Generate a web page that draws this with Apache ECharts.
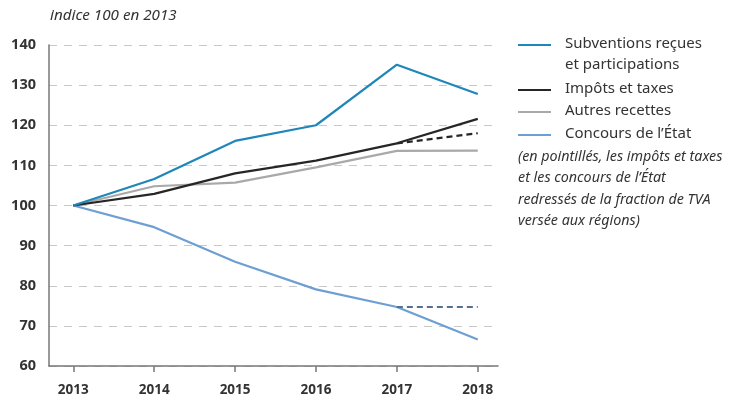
<!DOCTYPE html>
<html>
<head>
<meta charset="utf-8">
<script src="https://cdn.jsdelivr.net/npm/echarts@6/dist/echarts.min.js"></script>
<style>
  html, body { margin: 0; padding: 0; background: #fff; }
  #chart { width: 740px; height: 398px; }
</style>
</head>
<body>
<div id="chart"></div>
<script>
// Index of regional revenues, base 100 in 2013
const years = [2013, 2014, 2015, 2016, 2017, 2018];
const subventions = [100, 106.6, 116.1, 120.0, 135.1, 127.8];
const impots = [100, 102.9, 108.0, 111.2, 115.5, 121.6];
const autres = [100, 104.8, 105.7, 109.5, 113.6, 113.7];
const concours = [100, 94.6, 86.0, 79.1, 74.7, 66.6];
// Adjusted for the VAT fraction paid to regions (2017–2018 only)
const impotsAjustes = [null, null, null, null, 115.5, 118.0];
const concoursAjustes = [null, null, null, null, 74.7, 74.7];
const yTicks = [60, 70, 80, 90, 100, 110, 120, 130, 140];

const colors = {
  subventions: '#1f86b9',
  impots: '#262626',
  autres: '#a9a9a9',
  concours: '#6d9fd3',
  concoursDash: '#56708f'
};

const font = '"Noto Sans", "Open Sans", sans-serif';

function pairs(values) {
  return years.map((y, i) => [y, values[i]]);
}

function lineSeries(name, values, color, dashed) {
  return {
    name: name,
    type: 'line',
    data: pairs(values),
    symbol: 'none',
    connectNulls: false,
    lineStyle: { color: color, width: 2.2, type: dashed ? [6, 4] : 'solid' },
    z: dashed ? 3 : 2,
    silent: true
  };
}

const legendRows = [
  { color: colors.subventions, lineY: 45, lines: ['Subventions reçues', 'et participations'] },
  { color: colors.impots, lineY: 90, lines: ['Impôts et taxes'] },
  { color: colors.autres, lineY: 112, lines: ['Autres recettes'] },
  { color: colors.concours, lineY: 135, lines: ['Concours de l\u2019État'] }
];
const note = [
  '(en pointillés, les impôts et taxes',
  'et les concours de l\u2019État',
  'redressés de la fraction de TVA',
  'versée aux régions)'
];

const graphics = [];
legendRows.forEach(row => {
  graphics.push({
    type: 'line',
    shape: { x1: 518, y1: row.lineY, x2: 551, y2: row.lineY },
    style: { stroke: row.color, lineWidth: 2.2 }
  });
  row.lines.forEach((t, k) => {
    graphics.push({
      type: 'text',
      left: 565,
      top: row.lineY - 9 + k * 21.5,
      style: { text: t, font: '15px ' + font, fill: '#333' }
    });
  });
});
note.forEach((t, k) => {
  graphics.push({
    type: 'text',
    left: 518,
    top: 150 + k * 21.3,
    style: { text: t, font: 'italic 14.3px ' + font, fill: '#333' }
  });
});
graphics.push({
  type: 'text',
  left: 50,
  top: 8,
  style: { text: 'indice 100 en 2013', font: 'italic 15.2px ' + font, fill: '#333' }
});

const chart = echarts.init(document.getElementById('chart'), null, { renderer: 'canvas' });
chart.setOption({
  animation: false,
  backgroundColor: '#fff',
  grid: { left: 49, top: 45, right: 242, bottom: 32, containLabel: false },
  xAxis: {
    type: 'value',
    min: 2012.7,
    max: 2018.25,
    axisLine: { show: true, lineStyle: { color: '#777', width: 1.5 } },
    axisTick: { show: true, customValues: years, length: 6, lineStyle: { color: '#777', width: 1.5 } },
    axisLabel: {
      customValues: years,
      formatter: v => String(v),
      color: '#333',
      fontFamily: font,
      fontSize: 13.5,
      fontWeight: 'bold',
      margin: 17
    },
    splitLine: { show: false }
  },
  yAxis: {
    type: 'value',
    min: yTicks[0],
    max: yTicks[yTicks.length - 1],
    interval: 10,
    axisLine: { show: true, lineStyle: { color: '#777', width: 1.5 } },
    axisTick: { show: false },
    axisLabel: {
      color: '#333',
      fontFamily: font,
      fontSize: 14.5,
      fontWeight: 'bold',
      margin: 13,
      formatter: v => (yTicks.includes(v) ? String(v) : '')
    },
    splitLine: { show: true, lineStyle: { color: '#c8c8c8', width: 1.2, type: [8, 7] } }
  },
  graphic: graphics,
  series: [
    lineSeries('Autres recettes', autres, colors.autres, false),
    lineSeries('Concours de l\u2019État', concours, colors.concours, false),
    lineSeries('Impôts et taxes', impots, colors.impots, false),
    lineSeries('Subventions reçues et participations', subventions, colors.subventions, false),
    lineSeries('Impôts et taxes (redressés)', impotsAjustes, colors.impots, true),
    lineSeries('Concours de l\u2019État (redressés)', concoursAjustes, colors.concoursDash, true)
  ]
});
</script>
</body>
</html>
